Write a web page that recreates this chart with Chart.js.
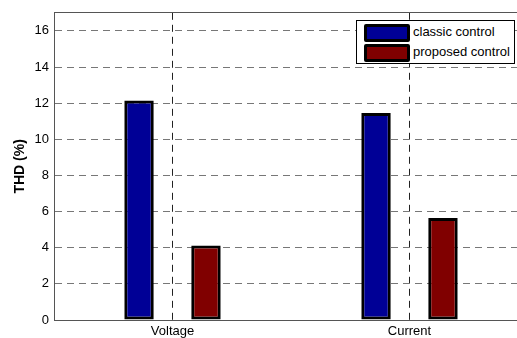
<!DOCTYPE html>
<html>
<head>
<meta charset="utf-8">
<script src="https://cdn.jsdelivr.net/npm/chart.js@4/dist/chart.umd.min.js"></script>
<style>
  html, body { margin: 0; padding: 0; background: #fff; overflow: hidden; }
  #wrap { position: relative; width: 528px; height: 338px; }
  #legend {
    position: absolute; left: 356px; top: 20px; width: 157px; height: 42px;
    border: 1px solid #000; background: #fff;
    font: 13px "Liberation Sans", Arial, sans-serif; color: #000;
  }
  #legend .row { position: absolute; left: 7px; height: 18px; line-height: 18px; white-space: nowrap; }
  #legend .sw { display: inline-block; width: 40px; height: 12px; border: 3px solid #000; border-radius: 2px; vertical-align: middle; margin-right: 3px; }
</style>
</head>
<body>
<div id="wrap">
  <canvas id="thdChart"></canvas>
  <div id="legend"></div>
</div>
<script>
// Data
const categories = ['Voltage', 'Current'];
const seriesNames = ['classic control', 'proposed control'];
const classicThd = [12.15, 11.45];
const proposedThd = [4.12, 5.65];
const yTicks = [0, 2, 4, 6, 8, 10, 12, 14, 16];

const barColors = ['#000096', '#800000'];
const font = "'Liberation Sans', Arial, sans-serif";

const datasets = [classicThd, proposedThd].map((vals, i) => ({
    label: seriesNames[i],
    data: vals,
    backgroundColor: barColors[i],
    borderColor: '#000',
    borderWidth: 3,
    borderSkipped: false,
    barPercentage: 0.44,
    categoryPercentage: 0.565
}));

const ctx = document.getElementById('thdChart').getContext('2d');
new Chart(ctx, {
    type: 'bar',
    data: { labels: categories, datasets: datasets },
    options: {
        animation: false,
        responsive: true,
        maintainAspectRatio: false,
        layout: { padding: { top: 12, right: 0, bottom: 0, left: 0 } },
        plugins: { legend: { display: false }, tooltip: { enabled: false } },
        scales: {
            x: {
                offset: true,
                grid: { offset: false, color: '#222', drawTicks: false, lineWidth: 1 },
                border: { display: true, color: '#555', width: 1, dash: [7, 5] },
                ticks: { color: '#000', font: { family: font, size: 13 }, padding: 4 },
                afterFit: s => { s.height = 18; }
            },
            x2: {
                position: 'top',
                grid: { display: false },
                border: { display: true, color: '#555', width: 1 },
                ticks: { display: false },
                afterFit: s => { s.height = 0; }
            },
            y: {
                min: 0,
                max: 17,
                ticks: { stepSize: 2, color: '#000', font: { family: font, size: 13 }, padding: 5 },
                afterBuildTicks: s => { s.ticks = yTicks.map(v => ({ value: v })); },
                grid: { color: '#777', drawTicks: false, lineWidth: 1 },
                border: { display: true, color: '#555', width: 1, dash: [7, 5] },
                title: { display: true, text: 'THD (%)', color: '#000', font: { family: font, size: 14, weight: 'bold' }, padding: { top: 12, bottom: 0 } },
                afterFit: s => { s.width = 54; }
            }
        }
    }
});

// Legend built from the series names
const legend = document.getElementById('legend');
seriesNames.forEach((name, i) => {
    const row = document.createElement('div');
    row.className = 'row';
    row.style.top = (2 + i * 20) + 'px';
    row.innerHTML = `<span class="sw" style="background:${barColors[i]}"></span>${name}`;
    legend.appendChild(row);
});
</script>
</body>
</html>
